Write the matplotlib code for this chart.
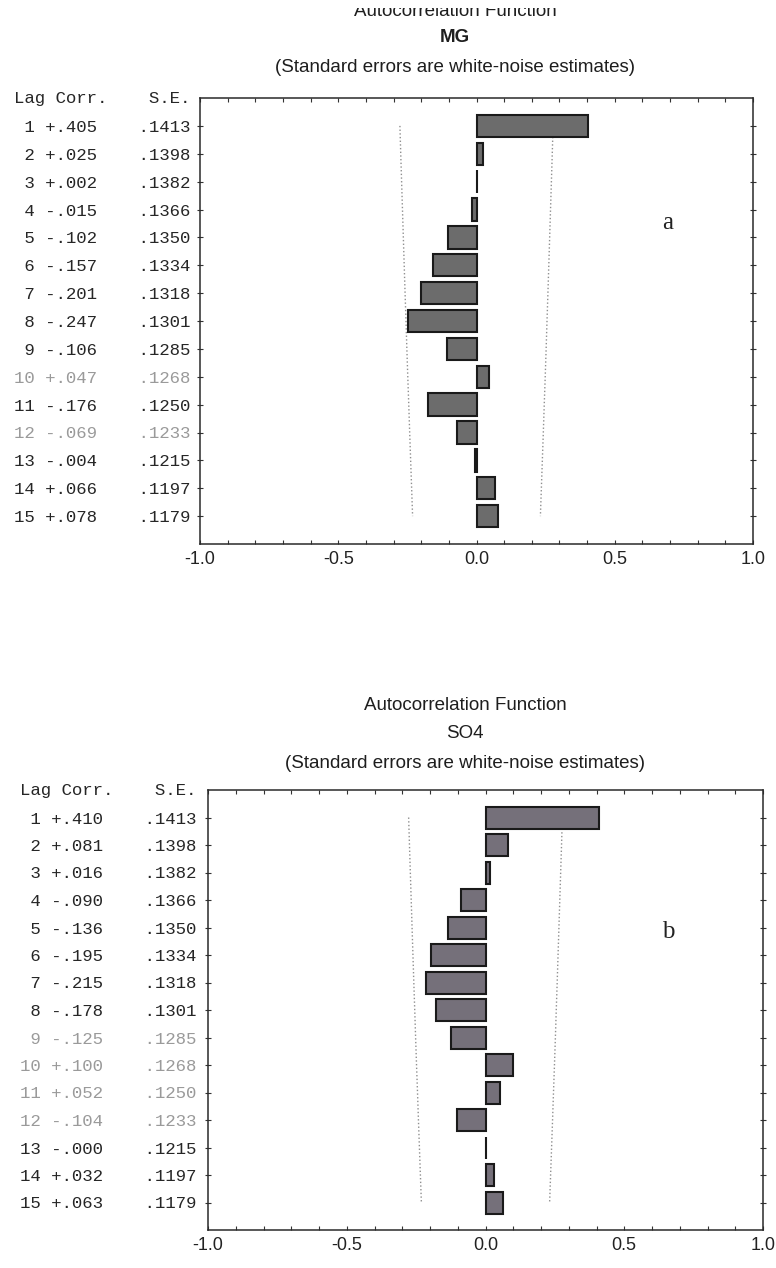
import matplotlib
matplotlib.use("Agg")
import matplotlib.pyplot as plt
from matplotlib.ticker import MultipleLocator
from matplotlib.patches import Rectangle

# ---------------- data ----------------
lags = list(range(1, 16))

mg_corr = [0.405, 0.025, 0.002, -0.015, -0.102, -0.157, -0.201, -0.247,
           -0.106, 0.047, -0.176, -0.069, -0.004, 0.066, 0.078]
mg_corr_text = ["+.405", "+.025", "+.002", "-.015", "-.102", "-.157", "-.201", "-.247",
                "-.106", "+.047", "-.176", "-.069", "-.004", "+.066", "+.078"]

so4_corr = [0.410, 0.081, 0.016, -0.090, -0.136, -0.195, -0.215, -0.178,
            -0.125, 0.100, 0.052, -0.104, -0.000, 0.032, 0.063]
so4_corr_text = ["+.410", "+.081", "+.016", "-.090", "-.136", "-.195", "-.215", "-.178",
                 "-.125", "+.100", "+.052", "-.104", "-.000", "+.032", "+.063"]

se = [0.1413, 0.1398, 0.1382, 0.1366, 0.1350, 0.1334, 0.1318, 0.1301,
      0.1285, 0.1268, 0.1250, 0.1233, 0.1215, 0.1197, 0.1179]
se_text = [".1413", ".1398", ".1382", ".1366", ".1350", ".1334", ".1318", ".1301",
           ".1285", ".1268", ".1250", ".1233", ".1215", ".1197", ".1179"]

x_ticks = [-1.0, -0.5, 0.0, 0.5, 1.0]
x_tick_labels = ["-1.0", "-0.5", "0.0", "0.5", "1.0"]

title_main = "Autocorrelation Function"
title_sub = "(Standard errors are white-noise estimates)"
header = "Lag Corr.    S.E."

# ---------------- figure ----------------
W, H = 776, 1268
fig = plt.figure(figsize=(W / 100, H / 100), dpi=100)
fig.patch.set_facecolor("white")

SANS = ["Liberation Sans", "DejaVu Sans"]
MONO = ["Liberation Mono", "DejaVu Sans Mono"]
SERIF = ["Liberation Serif", "DejaVu Serif"]


def fx(px):
    return px / W


def fy(py):
    return 1 - py / H


def panel(box, corr, corr_text, name, letter, letter_pos, faded, bar_color,
          title_x, title_ys, label_pad):
    left, top, right, bottom = box
    ax = fig.add_axes([fx(left), fy(bottom), fx(right - left), (bottom - top) / H])
    ax.barh(lags, corr, height=0.8, left=0, color=bar_color,
            edgecolor="#1a1a1a", linewidth=1.5, zorder=3)
    lim = [1.96 * s for s in se]
    ax.plot([-v for v in lim], lags, linestyle=":", color="#8f8f8f", lw=1.0, zorder=2)
    ax.plot(lim, lags, linestyle=":", color="#8f8f8f", lw=1.0, zorder=2)

    ax.set_xlim(-1.0, 1.0)
    ax.set_ylim(16, 0)
    ax.set_xticks(x_ticks)
    ax.set_xticklabels(x_tick_labels, family=SANS, fontsize=13, color="#222222")
    ax.xaxis.set_minor_locator(MultipleLocator(0.1))
    ax.tick_params(axis="x", which="both", direction="in", top=True, bottom=True,
                   length=3, width=0.8, color="#333333", pad=5)

    ax.set_yticks(lags)
    rows = [f"{l:>2} {c}    {s}" for l, c, s in zip(lags, corr_text, se_text)]
    ax.set_yticklabels(rows, family=MONO, fontsize=12.5)
    for i, t in enumerate(ax.get_yticklabels()):
        t.set_color("#9a9a9a" if lags[i] in faded else "#262626")
    ax.tick_params(axis="y", which="both", direction="inout", left=True, right=True,
                   length=5, width=0.8, color="#333333", pad=label_pad)

    for sp in ax.spines.values():
        sp.set_color("#2a2a2a")
        sp.set_linewidth(1.1)

    # header above the rows
    ax.annotate(header, xy=(0, 0), xycoords=("axes fraction", "data"),
                xytext=(-label_pad - 2.5, 0), textcoords="offset points",
                ha="right", va="center", family=MONO, fontsize=12.5, color="#262626")

    # panel letter
    ax.text(letter_pos[0], letter_pos[1], letter, family=SERIF, fontsize=18,
            color="#222222", ha="center", va="center")

    # titles
    y0, y1, y2 = title_ys
    fig.text(fx(title_x), fy(y0), title_main, family=SANS, fontsize=13.5,
             ha="center", va="center", color="#1e1e1e")
    fig.text(fx(title_x), fy(y1), name, family=SANS, fontsize=13.5,
             fontweight="bold" if name == "MG" else "normal",
             ha="center", va="center", color="#1e1e1e")
    fig.text(fx(title_x), fy(y2), title_sub, family=SANS, fontsize=13.5,
             ha="center", va="center", color="#1e1e1e")
    return ax


panel((200, 98, 753, 544), mg_corr, mg_corr_text, "MG", "a", (0.69, 4.5),
      faded={10, 12}, bar_color="#6c6c6c", title_x=455, title_ys=(12, 38, 67),
      label_pad=4.5)
panel((208, 790, 763, 1230), so4_corr, so4_corr_text, "SO4", "b", (0.66, 5.15),
      faded={9, 10, 11, 12}, bar_color="#75707a", title_x=465, title_ys=(705, 734, 763),
      label_pad=6)

# the scanned page is cut just through the first title line
fig.patches.append(Rectangle((0, fy(8)), 1, 1 - fy(8), transform=fig.transFigure,
                             facecolor="white", edgecolor="none", zorder=10))

fig.savefig("out.png", dpi=100, facecolor="white")
